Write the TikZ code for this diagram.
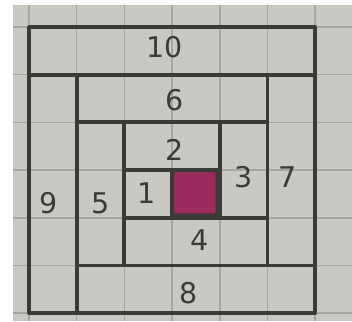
\documentclass[tikz,border=0pt]{standalone}
\usepackage{fontspec}
\setmainfont{DejaVu Sans}
\definecolor{PaperGrey}{HTML}{C9C9C3}
\definecolor{GridGrey}{HTML}{A7A7A2}
\definecolor{PencilDark}{HTML}{3A3A38}
\definecolor{BerryFill}{HTML}{9C2B5D}
\usetikzlibrary{positioning}

\begin{document}
\begin{tikzpicture}[y=-1cm,
  cell/.style={draw=PencilDark, line width=2.3pt, line join=round, line cap=round},
  num/.style={text=PencilDark, font=\fontsize{17}{17}\selectfont}]
  \useasboundingbox (-0.608,-0.566) rectangle (6.771,6.164);
  % paper and its grid
  \fill[PaperGrey] (-0.335,-0.461) rectangle (6.771,6.164);
  \foreach \k in {0,...,6} {
    \draw[GridGrey, line width=0.9pt] (\k,-0.461) -- (\k,6.164);
    \draw[GridGrey, line width=0.9pt] (-0.335,\k) -- (6.771,\k);
  }
  % spiral of boxes
  \foreach \xa/\ya/\xb/\yb in {0/0/6/1, 0/1/1/6, 1/5/6/6, 5/1/6/5, 1/1/5/2,
                                1/2/2/5, 2/4/5/5, 4/2/5/4, 2/2/4/3, 2/3/3/4}
    \draw[cell] (\xa,\ya) rectangle (\xb,\yb);
  \draw[cell, fill=BerryFill, rounded corners=2pt] (3,3) rectangle (3.95,3.95);
  % numbers
  \foreach \n/\x/\y in {10/2.85/0.42, 6/3.06/1.53, 2/3.06/2.58, 3/4.49/3.14,
                        7/5.42/3.14, 1/2.47/3.49, 5/1.49/3.7, 9/0.42/3.7,
                        4/3.58/4.47, 8/3.34/5.58}
    \node[num] (lbl\n) at (\x,\y) {\n};
\end{tikzpicture}
\end{document}
